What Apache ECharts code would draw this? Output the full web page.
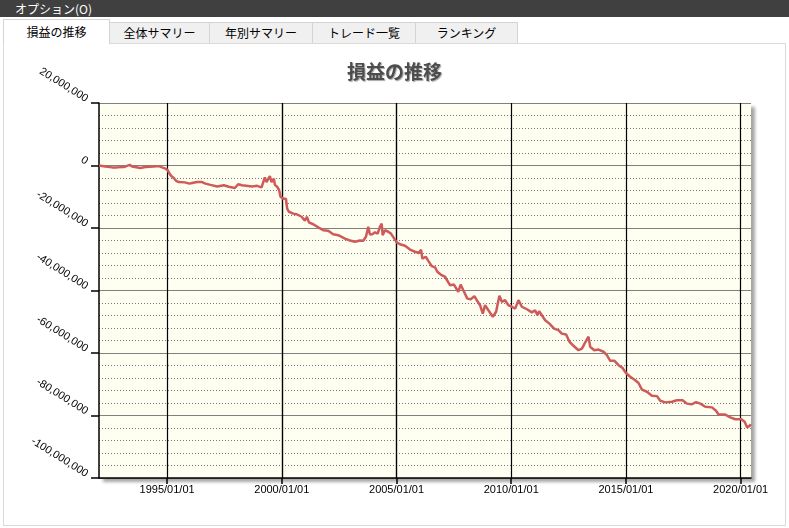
<!DOCTYPE html>
<html>
<head>
<meta charset="utf-8">
<script src="https://cdn.jsdelivr.net/npm/echarts@6/dist/echarts.min.js"></script>
<style>
  html, body { margin: 0; padding: 0; background: #fff; width: 789px; height: 528px; overflow: hidden; font-family: "Noto Sans CJK JP", "Liberation Sans", sans-serif; }
  #topbar { position: absolute; left: 0; top: 0; width: 789px; height: 17px; background: #404040; color: #fff; font-size: 12px; line-height: 17px; }
  #topbar span { position: absolute; left: 15px; top: 0; }
  .tab { position: absolute; top: 22px; height: 21px; background: #f0f0f0; border: 1px solid #d4d4d4; border-bottom: none; box-sizing: border-box; font-size: 12px; line-height: 20px; text-align: center; color: #000; }
  .tab.active { top: 19px; height: 25px; background: #fff; z-index: 2; line-height: 23px; }
  #panel { position: absolute; left: 3px; top: 43px; width: 783px; height: 483px; border: 1px solid #dadada; box-sizing: border-box; background: #fff; }
  #chart { position: absolute; left: 0; top: 0; width: 789px; height: 528px; z-index: 3; }
</style>
</head>
<body>
<div id="topbar"><span>オプション(O)</span></div>
<div id="panel"></div>
<div class="tab active" style="left:3px;width:107px;">損益の推移</div>
<div class="tab" style="left:109px;width:101px;">全体サマリー</div>
<div class="tab" style="left:209px;width:104px;">年別サマリー</div>
<div class="tab" style="left:312px;width:104px;">トレード一覧</div>
<div class="tab" style="left:415px;width:103px;">ランキング</div>
<div id="chart"></div>
<script>
// ---- data (values in millions of yen) ----
const dates = [
  '1992-01-13','1992-04-23','1992-08-07','1992-10-26','1993-02-10','1993-05-16','1993-06-22','1993-11-02',
  '1994-01-21','1994-06-03','1994-08-22','1994-10-13','1994-12-06','1995-01-12','1995-02-08','1995-03-11',
  '1995-04-17','1995-05-24','1995-07-05','1995-08-02','1995-10-09','1995-12-23','1996-02-02','1996-04-22',
  '1996-07-11','1996-09-03','1996-11-22','1997-03-08','1997-06-23','1997-09-10','1997-12-15','1998-02-05',
  '1998-04-09','1998-09-16','1998-12-04','1999-02-13','1999-03-08','1999-04-06','1999-05-03','1999-06-25',
  '1999-07-22','1999-08-28','1999-09-13','1999-10-19','1999-11-20','1999-12-12','2000-01-23','2000-03-07',
  '2000-03-27','2000-04-23','2000-07-01','2000-08-24','2000-11-12','2001-01-03','2001-02-04','2001-03-08',
  '2001-05-16','2001-08-04','2001-10-22','2002-01-09','2002-03-30','2002-06-18','2002-10-03','2002-12-21',
  '2003-03-11','2003-05-30','2003-07-21','2003-09-02','2003-10-09','2003-11-05','2003-12-11','2004-01-23',
  '2004-03-06','2004-04-12','2004-05-09','2004-05-25','2004-07-01','2004-08-22','2004-10-04','2004-11-26',
  '2005-01-04','2005-02-25','2005-05-16','2005-08-04','2005-10-22','2005-12-25','2006-01-26','2006-02-16',
  '2006-04-11','2006-05-22','2006-07-15','2006-09-06','2006-10-12','2006-12-20','2007-02-11','2007-05-02',
  '2007-07-04','2007-09-11','2007-10-19','2007-11-30','2008-02-02','2008-03-28','2008-05-24','2008-07-01',
  '2008-08-23','2008-10-05','2008-11-10','2009-01-02','2009-03-13','2009-05-05','2009-06-11','2009-06-27',
  '2009-08-04','2009-09-25','2009-11-17','2010-01-10','2010-03-04','2010-04-26','2010-06-19','2010-09-07',
  '2010-11-25','2011-01-16','2011-02-22','2011-03-21','2011-05-03','2011-06-25','2011-09-01','2011-11-14',
  '2012-01-22','2012-03-16','2012-05-24','2012-07-16','2012-09-18','2012-12-06','2013-01-30','2013-03-24',
  '2013-05-15','2013-06-11','2013-08-14','2013-10-21','2014-01-09','2014-03-04','2014-04-26','2014-07-03',
  '2014-09-05','2014-11-08','2015-01-01','2015-03-10','2015-05-29','2015-07-20','2015-09-13','2015-12-01',
  '2016-02-19','2016-05-09','2016-07-01','2016-09-18','2017-01-03','2017-03-24','2017-06-21','2017-08-29',
  '2017-11-17','2018-01-20','2018-03-30','2018-06-17','2018-10-02','2018-12-05','2019-01-15','2019-05-01',
  '2019-07-20','2019-10-08','2020-01-12','2020-03-05','2020-04-12','2020-05-18','2020-06-12'
];
const profit = [
  0.0,-0.3,-0.6,-0.6,-0.5,0.2,-0.3,-0.8,
  -0.5,-0.3,-0.2,-0.6,-1.0,-1.5,-2.6,-3.4,
  -4.0,-4.9,-5.3,-5.0,-5.4,-5.8,-5.6,-5.3,
  -5.3,-5.8,-6.2,-6.7,-6.3,-6.8,-7.2,-6.0,
  -6.3,-6.7,-6.5,-7.0,-6.8,-3.8,-5.3,-3.4,
  -5.3,-4.2,-6.2,-6.8,-7.9,-10.0,-10.6,-10.6,
  -13.8,-14.8,-15.4,-15.6,-16.4,-17.7,-16.4,-18.2,
  -18.8,-19.8,-20.7,-20.9,-22.0,-22.3,-23.4,-24.0,
  -24.4,-24.0,-24.1,-22.8,-19.6,-22.1,-22.0,-21.4,
  -21.8,-19.6,-18.6,-22.3,-20.7,-21.2,-21.8,-23.4,
  -24.6,-25.2,-25.7,-26.9,-27.6,-28.0,-26.9,-29.8,
  -29.2,-30.5,-32.2,-32.6,-34.0,-35.1,-35.6,-38.3,
  -38.1,-40.4,-38.1,-39.9,-42.6,-42.8,-41.8,-43.1,
  -44.7,-47.4,-44.7,-46.3,-48.4,-46.8,-43.1,-41.7,
  -43.6,-43.1,-44.7,-45.2,-45.8,-43.1,-45.2,-46.0,
  -47.0,-46.3,-47.9,-46.6,-47.9,-49.5,-50.6,-52.2,
  -52.7,-53.8,-54.1,-56.4,-57.7,-59.1,-58.6,-56.6,
  -54.8,-58.0,-59.1,-58.9,-59.6,-60.7,-62.5,-62.5,
  -63.9,-64.8,-66.4,-67.6,-68.7,-69.6,-71.7,-72.4,
  -73.7,-73.8,-75.3,-75.8,-75.6,-75.1,-75.1,-76.2,
  -76.4,-75.7,-76.2,-77.2,-77.4,-78.5,-79.7,-79.7,
  -80.6,-81.2,-81.2,-82.0,-83.8,-83.4,-82.8
];
const xTickDates = ['1995-01-01','2000-01-01','2005-01-01','2010-01-01','2015-01-01','2020-01-01'];
const xMin = '1992-01-13';
const xMax = '2020-06-14';
const yMin = -100000000, yMax = 20000000, yStep = 20000000;
const titleText = '損益の推移';

const toTs = s => +new Date(s + 'T00:00:00');
const seriesData = dates.map((d, i) => [toTs(d), profit[i] * 1e6]);
const tickTs = xTickDates.map(toTs);
const fmtNum = v => String(Math.round(v)).replace(/\B(?=(\d{3})+(?!\d))/g, ',');

const chart = echarts.init(document.getElementById('chart'), null, { renderer: 'canvas' });
chart.setOption({
  animation: false,
  backgroundColor: 'transparent',
  title: {
    text: titleText, left: 'center', top: 57,
    textStyle: { fontFamily: 'Noto Sans CJK JP', fontSize: 19, fontWeight: 'bold', color: '#4d4d4d',
      textShadowColor: 'rgba(0,0,0,0.35)', textShadowOffsetX: 1, textShadowOffsetY: 1, textShadowBlur: 1 }
  },
  grid: {
    show: true, left: 99, top: 103, width: 652, height: 375,
    backgroundColor: '#fefff0', borderWidth: 0,
    shadowColor: 'rgba(0,0,0,0.35)', shadowBlur: 3, shadowOffsetX: 4, shadowOffsetY: 4
  },
  xAxis: {
    type: 'time', min: toTs(xMin), max: toTs(xMax),
    axisLine: { show: true, onZero: false, lineStyle: { color: '#000', width: 1.5 } },
    axisTick: { show: true, customValues: tickTs, length: 6, lineStyle: { color: '#000', width: 1.5 } },
    axisLabel: { customValues: tickTs, formatter: '{yyyy}/{MM}/{dd}', color: '#000', fontSize: 11,
      fontFamily: 'Liberation Sans', margin: 6, showMinLabel: true, showMaxLabel: true, hideOverlap: false },
    splitLine: { show: true, lineStyle: { color: '#000', width: 1.2 } }
  },
  yAxis: {
    type: 'value', min: yMin, max: yMax, interval: yStep,
    axisLine: { show: true, onZero: false, lineStyle: { color: '#000', width: 1.5 } },
    axisTick: { show: true, length: 8, lineStyle: { color: '#000', width: 1.5 } },
    axisLabel: { rotate: -32, color: '#000', fontSize: 11, fontFamily: 'Liberation Sans', margin: 14,
      verticalAlign: 'bottom', align: 'right', lineHeight: 8, formatter: fmtNum },
    splitLine: { show: true, lineStyle: { color: '#808080', width: 1.2 } },
    minorTick: { show: false, splitNumber: 5 },
    minorSplitLine: { show: true, lineStyle: { color: '#777', width: 1, type: [1, 2] } }
  },
  series: [{
    type: 'line', data: seriesData, showSymbol: false, symbol: 'none',
    lineStyle: { color: '#cf5a5a', width: 2.5 }, z: 5
  }]
});
</script>
</body>
</html>
